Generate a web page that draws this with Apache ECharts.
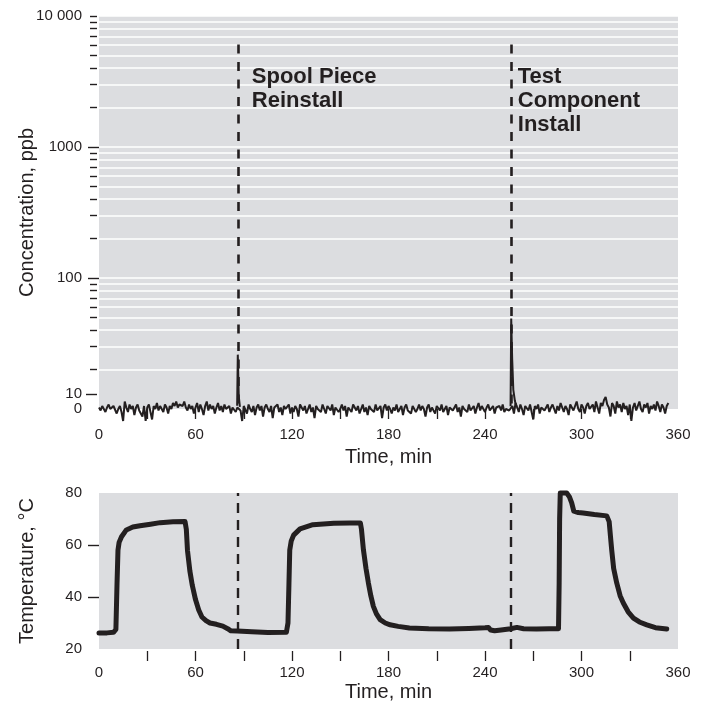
<!DOCTYPE html>
<html><head><meta charset="utf-8">
<script src="https://cdn.jsdelivr.net/npm/echarts@6/dist/echarts.min.js"></script>
<style>html,body{margin:0;padding:0;background:#fff}#c{width:706px;height:710px}</style>
</head><body><div id="c"></div>
<script>
// ---------- data ----------
const timeLabels = [0, 60, 120, 180, 240, 300, 360];
const timeMinorTicks = [30, 60, 90, 120, 150, 180, 210, 240, 270, 300, 330];
const concLabelValues = [100, 1000, 10000];
const concMajorTicks = [100, 1000];
const concMinorTicks = [20,30,40,50,60,70,80,90,200,300,400,500,600,700,800,900,2000,3000,4000,5000,6000,7000,8000,9000,10000];
const nearZeroLabels = [0, 10];
const nearZeroTicks = [10];
const tempLabels = [20, 40, 60, 80];
const tempTicks = [40, 60];
const eventTimes = [86.3, 256.3];
const eventNames = ['Spool Piece\nReinstall', 'Test\nComponent\nInstall'];

// baseline concentration noise, ppb, one reading per minute starting at t = 0
const noiseValues = [
 1,-1,2,0,-2,1,3,0,-1,2,1,-3,0,2,-2,-8,5,1,-2,3,
 0,2,-4,1,3,-1,0,-5,2,-8,1,3,-2,-7,2,0,4,-1,2,0,
 -2,3,1,-3,2,0,4,2,5,1,3,4,2,5,1,-1,3,0,2,-3,
 1,4,-2,3,0,-4,2,5,-1,3,0,2,-3,1,4,-1,2,-2,3,0,
 -1,2,-3,1,0,-2,1,2,-1,-8,2,1,-3,3,0,-2,2,-4,1,3,
 -1,2,-5,1,3,0,-2,2,-6,1,0,3,-2,1,-4,2,0,-1,3,-3,
 1,-2,2,0,-5,3,1,-1,2,-3,0,3,-2,1,-6,2,0,1,-2,3,
 0,-3,2,1,-1,3,-4,1,2,-2,0,3,-1,2,-5,1,0,-2,3,1,
 -1,2,-3,0,3,-2,1,-4,2,0,1,-2,3,-1,0,2,-6,1,3,-1,
 2,0,-3,1,-1,3,-2,0,2,-4,1,3,-1,0,-3,2,1,-2,0,3,
 -1,2,0,-5,1,3,-2,1,0,-3,2,1,-1,3,-2,0,2,-4,1,2,
 -1,0,3,-2,1,-5,2,0,1,-2,3,-1,0,2,-3,1,4,-1,2,0,
 -2,1,3,-1,0,2,-3,1,0,2,-1,3,-2,0,1,-1,0,2,-3,4,
 1,-2,3,0,-4,2,1,-1,3,-2,-7,2,0,3,-3,1,2,-1,0,3,
 -2,1,3,0,-3,2,-1,4,1,-2,2,0,-4,3,1,-1,2,5,0,-2,
 3,1,-3,2,4,0,-1,3,-2,5,1,-3,4,2,6,8,3,1,-5,4,
 2,-3,5,1,3,-2,4,0,2,-4,3,-8,1,4,-1,2,5,0,-2,3,
 1,4,-3,2,0,3,-1,5,2,-2,3,1,-3,2,4
];
// concentration spikes, ppb
const spike1Time = [85.9, 86.3, 86.9, 87.6];
const spike1Value = [10.6, 26, 12.5, 10.4];
const spike2Time = [255.9, 256.3, 256.9, 257.6, 258.6, 259.6];
const spike2Value = [10.5, 49, 24, 14, 11.5, 10.4];

// temperature, °C
const tempTime = [0,5,9,10.5,11.2,11.8,12.5,14,17,21,25.5,32,38,46,53.5,54.3,55,56.5,58,60,62,64,66.5,69,73,77,80,82,86,95,105,116.5,117.5,118.1,118.6,119.5,121,125,133,146,156,162.5,163.2,164.4,166,167.5,169,170.6,172.5,174.8,178,181,186,193,205,218,230,240,242.1,243.5,246,250,256,259.8,264,272,280,285.7,286.1,286.4,286.8,290.8,292.5,293.9,295.2,298,301,308,315.7,317.2,318.2,318.8,320,321.9,324,326,329,332.3,336,340.6,346,353];
const tempValue = [26.2,26.2,26.4,27.5,45,58,61,63.2,65.8,66.9,67.4,68,68.6,68.9,69,66,58,50,44.5,39,35,32.3,30.9,30,29.5,28.8,27.8,27,26.9,26.6,26.3,26.4,30,45,58,61.5,63.8,66.2,67.8,68.4,68.5,68.5,66,58.2,51,45.4,40.5,36.4,33.5,31.3,30,29.3,28.7,28.1,27.8,27.7,27.9,28.2,28.3,27.3,27,27.3,27.8,28.3,27.8,27.7,27.8,27.8,45,70,80,80,78.5,76.2,73,72.5,72.3,71.7,71.2,69,62,58,51,45.4,40.5,37.7,34.3,31.9,30.4,29.3,28.2,27.7];

// ---------- chart ----------
const INK = '#231f20';
const FONT = '"Liberation Sans", Arial, Helvetica, sans-serif';
const pairs = (xs, ys) => xs.map((x, i) => [x, ys[i]]);
const noiseData = noiseValues.map((v, i) => [i, v]);

const chart = echarts.init(document.getElementById('c'), null, {renderer: 'canvas'});

function timeAxis(gridIndex, labelMargin, nameGap) {
  return {
    gridIndex, type: 'value', min: 0, max: 360, interval: 60, position: 'bottom', offset: 2,
    axisLine: {show: false},
    axisTick: {show: true, customValues: timeMinorTicks, length: 10, lineStyle: {color: INK, width: 1.3}},
    axisLabel: {customValues: timeLabels, fontSize: 15, color: INK, margin: labelMargin, fontFamily: FONT},
    splitLine: {show: false},
    name: 'Time, min', nameLocation: 'middle', nameGap, nameMoveOverlap: false,
    nameTextStyle: {fontSize: 20, color: INK, fontFamily: FONT}
  };
}

const option = {
  animation: false,
  backgroundColor: '#ffffff',
  textStyle: {fontFamily: FONT, color: INK},
  grid: [
    {left: 99, right: 28, top: 16, height: 393, show: true, backgroundColor: '#dcdde0', borderWidth: 0,
     containLabel: false, outerBoundsMode: 'none'},
    {left: 99, right: 28, top: 493, height: 156, show: true, backgroundColor: '#dcdde0', borderWidth: 0,
     containLabel: false, outerBoundsMode: 'none'}
  ],
  xAxis: [timeAxis(0, 16, 36), timeAxis(1, 14, 31)],
  yAxis: [
    { // log axis, major ticks & labels
      gridIndex: 0, type: 'log', logBase: 10, min: 10, max: 10000, position: 'left', offset: 2,
      axisLine: {show: false},
      axisTick: {show: true, customValues: concMajorTicks, length: 11, lineStyle: {color: INK, width: 1.4}},
      axisLabel: {customValues: concLabelValues, fontSize: 15, color: INK, margin: 15, fontFamily: FONT,
        formatter: v => (v >= 10000 ? '10 000' : String(v))},
      splitLine: {show: true, lineStyle: {color: '#ffffff', width: 1.6}},
      name: 'Concentration, ppb', nameLocation: 'middle', nameGap: 60, nameMoveOverlap: false,
      nameTextStyle: {fontSize: 20, color: INK, fontFamily: FONT}
    },
    { // log axis, minor ticks
      gridIndex: 0, type: 'log', logBase: 10, min: 10, max: 10000, position: 'left', offset: 2,
      axisLine: {show: false},
      axisTick: {show: true, customValues: concMinorTicks, length: 7, lineStyle: {color: INK, width: 1.4}},
      axisLabel: {show: false},
      splitLine: {show: true, lineStyle: {color: '#ffffff', width: 1.6}}
    },
    { // near-zero linear segment of the concentration axis
      gridIndex: 0, type: 'value', min: 0, max: 262, position: 'left', offset: 2,
      axisLine: {show: false},
      axisTick: {show: true, customValues: nearZeroTicks, length: 11, lineStyle: {color: INK, width: 1.4}},
      axisLabel: {customValues: nearZeroLabels, fontSize: 15, color: INK, margin: 15, fontFamily: FONT},
      splitLine: {show: false}
    },
    { // temperature
      gridIndex: 1, type: 'value', min: 20, max: 80, interval: 20, position: 'left', offset: 2,
      axisLine: {show: false},
      axisTick: {show: true, customValues: tempTicks, length: 11, lineStyle: {color: INK, width: 1.4}},
      axisLabel: {customValues: tempLabels, fontSize: 15, color: INK, margin: 15, fontFamily: FONT},
      splitLine: {show: false},
      name: 'Temperature, °C', nameLocation: 'middle', nameGap: 60, nameMoveOverlap: false,
      nameTextStyle: {fontSize: 20, color: INK, fontFamily: FONT}
    }
  ],
  series: [
    {
      name: 'baseline', type: 'line', xAxisIndex: 0, yAxisIndex: 2, data: noiseData,
      showSymbol: false, clip: false, lineStyle: {color: INK, width: 2}, z: 3
    },
    {
      name: 'spike1', type: 'line', xAxisIndex: 0, yAxisIndex: 0, data: pairs(spike1Time, spike1Value),
      showSymbol: false, clip: false, lineStyle: {color: INK, width: 2}, z: 4,
      markLine: {
        silent: true, symbol: 'none', label: {show: false},
        lineStyle: {color: INK, width: 2.6, type: [9, 8.5]},
        data: eventTimes.map(t => [{coord: [t, 6050]}, {coord: [t, 10]}])
      },
      markPoint: {
        silent: true, symbol: 'circle', symbolSize: 0,
        data: [
          {coord: [95, 4250], label: {formatter: eventNames[0]}},
          {coord: [260.4, 4250], label: {formatter: eventNames[1]}}
        ],
        label: {show: true, position: [0, 0], align: 'left', verticalAlign: 'top',
          fontSize: 22, fontWeight: 'bold', lineHeight: 24, color: INK, fontFamily: FONT}
      }
    },
    {
      name: 'spike2', type: 'line', xAxisIndex: 0, yAxisIndex: 0, data: pairs(spike2Time, spike2Value),
      showSymbol: false, clip: false, lineStyle: {color: INK, width: 2}, z: 4
    },
    {
      name: 'temperature', type: 'line', xAxisIndex: 1, yAxisIndex: 3, data: pairs(tempTime, tempValue),
      showSymbol: false, clip: false, lineStyle: {color: INK, width: 5, join: 'round', cap: 'round'}, z: 4,
      markLine: {
        silent: true, symbol: 'none', label: {show: false},
        lineStyle: {color: INK, width: 2.4, type: [10, 7]},
        data: eventTimes.map(t => [{coord: [t, 20]}, {coord: [t, 80]}])
      }
    }
  ]
};
chart.setOption(option);
</script>
</body></html>
